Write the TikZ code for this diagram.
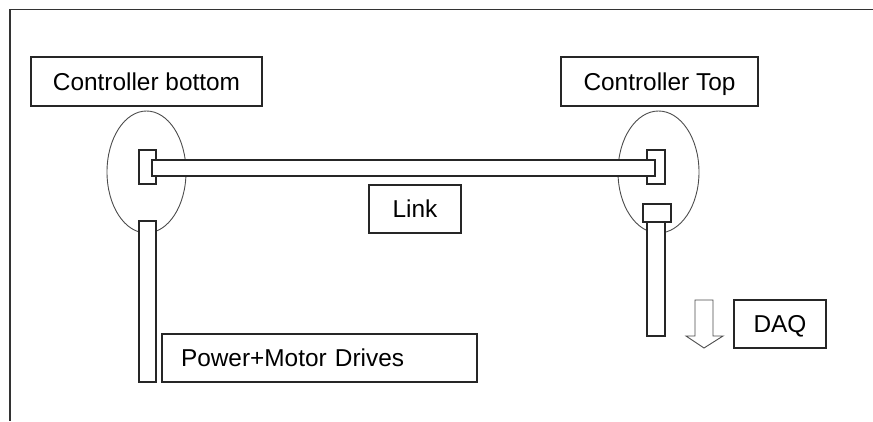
\documentclass[tikz,border=0pt]{standalone}
\usepackage{fontspec}
\setmainfont{Liberation Sans}
\usetikzlibrary{shapes.geometric}
\begin{document}
\begin{tikzpicture}[x=1pt,y=-1pt,
  labelbox/.style={draw=black!85,line width=1.3pt,fill=white,inner sep=0pt,
    font=\fontsize{24.4}{27}\selectfont,text height=17.5pt,text depth=0pt},
  joint/.style={draw=black!70,line width=0.9pt,ellipse,inner sep=0pt},
  part/.style={draw=black!85,line width=1.3pt,fill=white,inner sep=0pt,rectangle}]
\useasboundingbox (0,0) rectangle (873,421);
% outer frame (top and left edges)
\draw[line width=1.6pt,black!80] (873,9.5) -- (10,9.5) -- (10,421);

% controller joints
\node[joint,minimum width=79pt,minimum height=122pt] (jointL) at (146.5,172) {};
\node[joint,minimum width=81pt,minimum height=122pt] (jointR) at (658.5,172) {};

% mounting blocks, link bar and poles
\node[part,minimum width=17pt,minimum height=34pt] (blockL) at (147.5,167) {};
\node[part,minimum width=18pt,minimum height=34pt] (blockR) at (656,167) {};
\node[part,minimum width=503pt,minimum height=16pt] (bar) at (403.5,168) {};
\node[part,minimum width=17pt,minimum height=161pt] (poleL) at (147.5,301.5) {};
\node[part,minimum width=28pt,minimum height=18pt] (cap) at (657,213) {};
\node[part,minimum width=18pt,minimum height=114pt] (poleR) at (656,279) {};

% labels
\node[labelbox,minimum width=231pt,minimum height=49pt] (ctrlB) at (146.5,81.5) {Controller bottom};
\node[labelbox,minimum width=197pt,minimum height=49pt] (ctrlT) at (659.5,81.5) {Controller Top};
\node[labelbox,minimum width=92pt,minimum height=48pt] (link) at (415,209) {Link};
\node[labelbox,minimum height=48pt,inner xsep=19pt,text width=277pt,align=left] (power) at (319.5,358) {Power+Motor Drives};
\node[labelbox,minimum width=92pt,minimum height=48pt] (daq) at (780,324) {DAQ};

% hollow arrow towards the DAQ
\draw[black!70,line width=0.9pt,fill=white]
  (695,300) -- (713,300) -- (713,336) -- (723,336) -- (704,348)
  -- (686,336) -- (695,336) -- cycle;
\end{tikzpicture}
\end{document}
